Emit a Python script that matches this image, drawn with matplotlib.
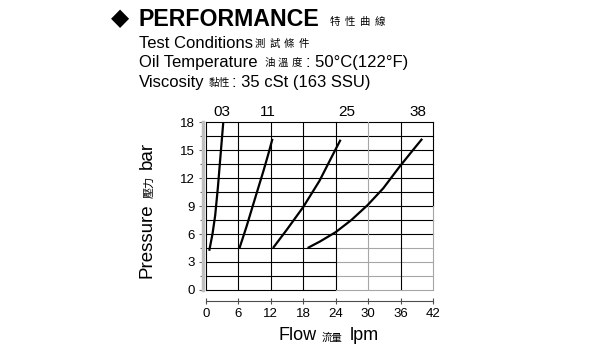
import matplotlib
matplotlib.use("Agg")
import matplotlib.pyplot as plt
import numpy as np

plt.rcParams['font.family'] = ['Liberation Sans', 'Noto Sans CJK TC', 'DejaVu Sans']

# Data (flow lpm, pressure bar) per valve size
series_names = ["03", "11", "25", "38"]
flow_03 = [0.6, 1.2, 1.7, 2.2, 2.7, 3.2]
pres_03 = [4.2, 6.0, 8.0, 11.0, 14.5, 18.0]
flow_11 = [6.2, 7.5, 8.7, 9.7, 10.6, 11.5, 12.3]
pres_11 = [4.5, 6.8, 9.1, 11.0, 12.7, 14.5, 16.2]
flow_25 = [12.4, 15.0, 18.0, 21.0, 24.0, 24.9]
pres_25 = [4.5, 6.5, 8.9, 11.7, 15.1, 16.1]
flow_38 = [18.8, 21.1, 24.0, 26.9, 29.9, 32.8, 35.8, 38.3, 40.0]
pres_38 = [4.5, 5.2, 6.2, 7.5, 9.1, 10.9, 13.2, 15.0, 16.2]
label_x = [3.0, 11.5, 26.0, 39.2]

x_ticks = [0, 6, 12, 18, 24, 30, 36, 42]
y_ticks = [0, 3, 6, 9, 12, 15, 18]

fig = plt.figure(figsize=(6, 3.5), dpi=100)
ax = fig.add_axes([206/600, 1-290/350, (433-206)/600, (290-122)/350])
ax.set_xlim(0, 42)
ax.set_ylim(0, 18)

# grid lines
ylev = np.arange(0, 18.01, 1.5)
for y in ylev:
    ax.plot([0, 24], [y, y], color='black', lw=0.8, zorder=1, clip_on=False)
    c = 'black' if y >= 6 else '0.65'
    ax.plot([24, 42], [y, y], color=c, lw=0.8, zorder=1, clip_on=False)
for x in x_ticks[1:-1]:
    c = '0.65' if x == 30 else 'black'
    ax.plot([x, x], [0, 18], color=c, lw=0.8, zorder=1)
ax.plot([42, 42], [9, 18], color='black', lw=0.8, zorder=1, clip_on=False)
ax.plot([42, 42], [0, 9], color='0.65', lw=0.8, zorder=1, clip_on=False)
ax.plot([0, 0], [0, 18], color='black', lw=0.8, zorder=1, clip_on=False)

for fx, py in [(flow_03, pres_03), (flow_11, pres_11), (flow_25, pres_25), (flow_38, pres_38)]:
    ax.plot(fx, py, color='black', lw=1.6, zorder=3, solid_capstyle='butt')

for name, lx in zip(series_names, label_x):
    ax.text(lx, 18.3, name, ha='center', va='bottom', fontsize=11)

for s in ['top', 'right']:
    ax.spines[s].set_visible(False)
ax.spines['left'].set_position(('outward', 2))
ax.spines['left'].set_color('0.75')
ax.spines['left'].set_linewidth(2.5)
ax.spines['bottom'].set_position(('outward', 8))
ax.spines['bottom'].set_color('0.3')
ax.spines['bottom'].set_linewidth(0.8)

ax.set_xticks(x_ticks)
ax.set_yticks(y_ticks)
ax.set_yticks(np.arange(1.5, 18, 3), minor=True)
ax.tick_params(axis='x', direction='inout', length=4, width=0.8, color='0.3', labelsize=9.5, pad=3)
ax.tick_params(axis='y', which='major', direction='out', length=3, width=0.8, color='0.4', labelsize=9.5, pad=3)
ax.tick_params(axis='y', which='minor', direction='out', length=2, width=0.8, color='0.4')

renderer = fig.canvas.get_renderer()

def Y(py):
    return 1 - py/350
def X(px):
    return px/600

def put_h(px, py, s, size, gap=0, **kw):
    """place text at pixel x (left), return right edge pixel + gap"""
    t = fig.text(X(px), Y(py), s, fontsize=size, va='center', ha='left', **kw)
    bb = t.get_window_extent(renderer)
    return bb.x1 + gap

def put_v(px, py, s, size, gap=0, **kw):
    """rotated text, bottom at pixel y; return top pixel y (from top) - gap"""
    t = fig.text(X(px), Y(py), s, fontsize=size, rotation=90, ha='center', va='bottom', **kw)
    bb = t.get_window_extent(renderer)
    return 350 - bb.y1 - gap

def cjk_row(chars, px, py, size, step, gap):
    for i, ch in enumerate(chars):
        fig.text(X(px + i*step), Y(py), ch, fontsize=size, va='center', ha='left')
    return px + len(chars)*step - (step - 10) + gap

# x label
x = put_h(278, 336, 'Flow', 13, gap=5)
x = put_h(x, 338, '流量', 7.5, gap=8)
put_h(x, 336, 'lpm', 13)

# y label
y = put_v(147, 278, 'Pressure', 13.5, gap=5)
y = put_v(149, y, '壓力', 8, gap=7)
put_v(147, y, 'bar', 13.5)

# Header texts
fig.text(X(111), Y(18), '◆', fontsize=17, va='center', ha='left', family=['DejaVu Sans'])
x = put_h(139, 20, 'PERFORMANCE', 16.7, gap=10, fontweight='bold')
cjk_row('特性曲線', x, 22, 7.5, 15, 0)

x = put_h(139, 43, 'Test Conditions', 12, gap=2)
cjk_row('測試條件', x, 44, 7.5, 14.5, 0)

x = put_h(139, 62, 'Oil Temperature', 12, gap=7)
x = cjk_row('油溫度', x, 63, 7.5, 13.5, 4)
put_h(x, 62, ': 50°C(122°F)', 12)

x = put_h(139, 82, 'Viscosity', 12, gap=4)
x = cjk_row('黏性', x, 83, 7.5, 10, 3)
put_h(x, 82, ': 35 cSt (163 SSU)', 12)

fig.savefig('out.png', dpi=100)
